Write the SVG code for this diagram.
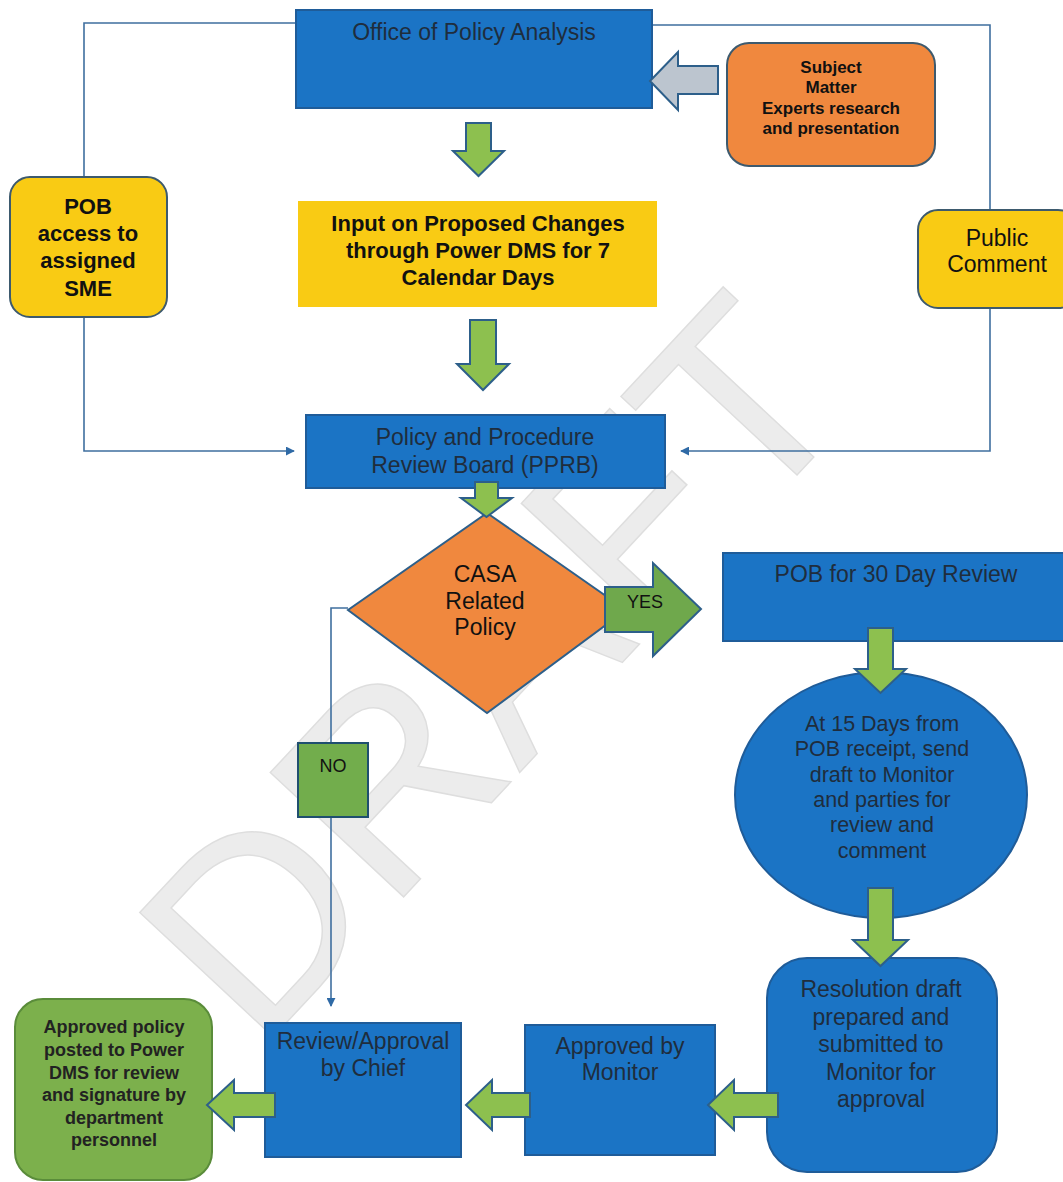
<svg xmlns="http://www.w3.org/2000/svg" width="1063" height="1182" viewBox="0 0 1063 1182">
<defs>
<style>
.blue{fill:#1b74c5;stroke:#1f5c99;stroke-width:2}
.yel{fill:#f9cb14;stroke:#3d5a6e;stroke-width:2}
.org{fill:#f0883e;stroke:#3d5a6e;stroke-width:2}
.garrow{fill:#8dc04f;stroke:#2d5f8a;stroke-width:2;stroke-linejoin:miter}
.conn{fill:none;stroke:#3f6f9f;stroke-width:1.6}
.bt{font-family:"Liberation Sans",Arial,sans-serif;font-size:23px;fill:#1f2d3d;text-anchor:middle}
.kt{font-family:"Liberation Sans",Arial,sans-serif;font-size:22px;font-weight:bold;fill:#111;text-anchor:middle}
.st{font-family:"Liberation Sans",Arial,sans-serif;font-size:17px;font-weight:bold;fill:#111;text-anchor:middle}
.wm{font-family:"Liberation Sans",Arial,sans-serif;font-size:265px;fill:#ececec;stroke:#dedede;stroke-width:1.5;text-anchor:middle}
</style>
<marker id="ah" viewBox="0 0 10 10" refX="9" refY="5" markerWidth="9" markerHeight="9" markerUnits="userSpaceOnUse" orient="auto">
<path d="M0,0 L10,5 L0,10 z" fill="#2f6aa6"/>
</marker>
</defs>
<rect width="1063" height="1182" fill="#ffffff"/>
<g id="watermark">
<text class="wm" transform="translate(490,665) rotate(-47)" x="0" y="95">DRAFT</text>
</g>
<g id="connectors">
<polyline class="conn" points="296,23 84,23 84,177"/>
<polyline class="conn" points="84,317 84,451 294,451" marker-end="url(#ah)"/>
<polyline class="conn" points="652,25 990,25 990,210"/>
<polyline class="conn" points="990,308 990,451 681,451" marker-end="url(#ah)"/>
<polyline class="conn" points="348,608 331,608 331,743"/>
<polyline class="conn" points="331,817 331,1006" marker-end="url(#ah)"/>
</g>
<g id="office">
<rect class="blue" x="296" y="10" width="356" height="98"/>
<text class="bt" x="474" y="40">Office of Policy Analysis</text>
</g>
<g id="sme">
<rect class="org" x="727" y="43" width="208" height="123" rx="22"/>
<text class="st" x="831" y="73">Subject</text>
<text class="st" x="831" y="93">Matter</text>
<text class="st" x="831" y="114">Experts research</text>
<text class="st" x="831" y="134">and presentation</text>
</g>
<g id="input">
<rect x="298" y="201" width="359" height="106" fill="#f9cb14"/>
<text class="kt" x="478" y="231">Input on Proposed Changes</text>
<text class="kt" x="478" y="258">through Power DMS for 7</text>
<text class="kt" x="478" y="285">Calendar Days</text>
</g>
<g id="pob-access">
<rect class="yel" x="10" y="177" width="157" height="140" rx="20"/>
<text class="kt" x="88" y="214">POB</text>
<text class="kt" x="88" y="241">access to</text>
<text class="kt" x="88" y="268">assigned</text>
<text class="kt" x="88" y="296">SME</text>
</g>
<g id="public-comment">
<rect class="yel" x="918" y="210" width="160" height="98" rx="20"/>
<text class="kt" x="997" y="246" style="font-weight:normal;font-size:23px">Public</text>
<text class="kt" x="997" y="272" style="font-weight:normal;font-size:23px">Comment</text>
</g>
<g id="pprb">
<rect class="blue" x="306" y="415" width="359" height="73"/>
<text class="bt" x="485" y="445">Policy and Procedure</text>
<text class="bt" x="485" y="473">Review Board (PPRB)</text>
</g>
<g id="casa">
<polygon points="487,513 626,610 487,713 348,610" fill="#f0883e" stroke="#2d5f8a" stroke-width="2"/>
<text class="kt" x="485" y="582" style="font-weight:normal;font-size:23px">CASA</text>
<text class="kt" x="485" y="609" style="font-weight:normal;font-size:23px">Related</text>
<text class="kt" x="485" y="635" style="font-weight:normal;font-size:23px">Policy</text>
</g>
<g id="no">
<rect x="298" y="743" width="70" height="74" fill="#72ad4c" stroke="#1f4f6f" stroke-width="2"/>
<text class="st" x="333" y="772" style="font-weight:normal;font-size:18px">NO</text>
</g>
<g id="pob30">
<rect class="blue" x="723" y="553" width="350" height="88"/>
<text class="bt" x="896" y="582">POB for 30 Day Review</text>
</g>
<g id="at15">
<ellipse class="blue" cx="881" cy="795" rx="146" ry="123"/>
<g class="bt" style="font-size:21.5px">
<text x="882" y="731">At 15 Days from</text>
<text x="882" y="756">POB receipt, send</text>
<text x="882" y="782">draft to Monitor</text>
<text x="882" y="807">and parties for</text>
<text x="882" y="832">review and</text>
<text x="882" y="858">comment</text>
</g>
</g>
<g id="resolution">
<rect class="blue" x="767" y="958" width="230" height="214" rx="40"/>
<text class="bt" x="881" y="997">Resolution draft</text>
<text class="bt" x="881" y="1025">prepared and</text>
<text class="bt" x="881" y="1052">submitted to</text>
<text class="bt" x="881" y="1080">Monitor for</text>
<text class="bt" x="881" y="1107">approval</text>
</g>
<g id="monitor">
<rect class="blue" x="525" y="1025" width="190" height="130"/>
<text class="bt" x="620" y="1054">Approved by</text>
<text class="bt" x="620" y="1080">Monitor</text>
</g>
<g id="chief">
<rect class="blue" x="265" y="1023" width="196" height="134"/>
<text class="bt" x="363" y="1049">Review/Approval</text>
<text class="bt" x="363" y="1076">by Chief</text>
</g>
<g id="approved">
<rect x="15" y="999" width="197" height="181" rx="28" fill="#7cb04c" stroke="#5a8c3a" stroke-width="2"/>
<g class="st" style="font-size:18px;fill:#222">
<text x="114" y="1033">Approved policy</text>
<text x="114" y="1056">posted to Power</text>
<text x="114" y="1079">DMS for review</text>
<text x="114" y="1101">and signature by</text>
<text x="114" y="1124">department</text>
<text x="114" y="1146">personnel</text>
</g>
</g>
<g id="flow-arrows">
<polygon class="garrow" points="466,123 491,123 491,151 504,151 478.5,176 453,151 466,151"/>
<polygon class="garrow" points="470,320 496,320 496,364 509,364 483,390 457,364 470,364"/>
<polygon class="garrow" points="475,482 498,482 498,498 512,498 486.5,517 461,498 475,498"/>
<polygon class="garrow" points="868,628 893,628 893,669 906,669 880.5,693 855,669 868,669"/>
<polygon class="garrow" points="868,888 893,888 893,940 908,940 880.5,966 853,940 868,940"/>
<polygon points="718,66 678,66 678,52 650,81 678,110 678,94 718,94" fill="#bcc5cf" stroke="#2d5f8a" stroke-width="2"/>
<polygon points="605,587 653,587 653,563 701,609 653,656 653,632 605,632" fill="#6fa84c" stroke="#2d5f8a" stroke-width="2"/>
<text class="st" x="645" y="608" style="font-weight:normal;font-size:18px">YES</text>
<polygon class="garrow" points="778,1093 734,1093 734,1080 708,1105 734,1130 734,1117 778,1117"/>
<polygon class="garrow" points="530,1093 492,1093 492,1080 466,1105 492,1130 492,1117 530,1117"/>
<polygon class="garrow" points="275,1093 234,1093 234,1080 207,1105 234,1130 234,1117 275,1117"/>
</g>
</svg>
